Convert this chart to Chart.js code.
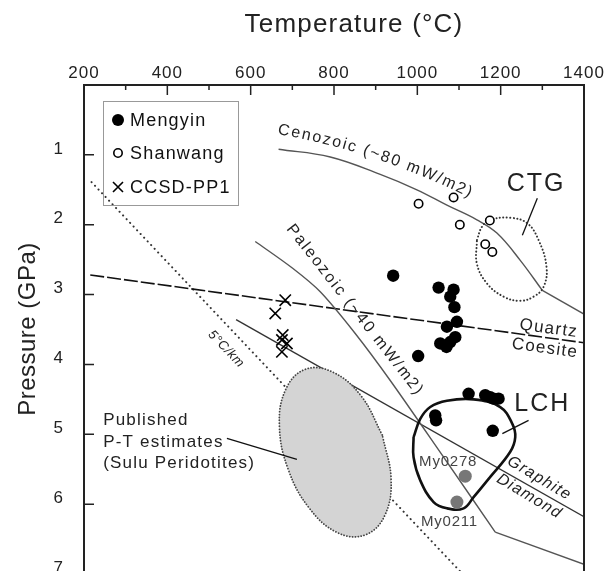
<!DOCTYPE html>
<html>
<head>
<meta charset="utf-8">
<script src="https://cdn.jsdelivr.net/npm/chart.js@4.4.1/dist/chart.umd.min.js"></script>
<style>
  html, body { margin: 0; padding: 0; background: #fff; overflow: hidden; }
  #wrap { width: 610px; height: 600px; }
</style>
</head>
<body>
<div id="wrap"><canvas id="pt" width="610" height="600"></canvas></div>
<script>
const FONT = '"Liberation Sans", Arial, Helvetica, sans-serif';

// samples (T in degC, P in GPa)
const mengyinT = [942, 1051, 1087, 1079, 1089, 1095, 1071, 1091, 1079, 1055, 1070, 1002, 1123, 1163, 1175, 1183, 1195, 1043, 1045, 1181];
const mengyinP = [2.73, 2.90, 2.93, 3.03, 3.18, 3.39, 3.46, 3.61, 3.68, 3.70, 3.75, 3.88, 4.42, 4.44, 4.47, 4.49, 4.49, 4.73, 4.80, 4.95];
const shanwangT = [1003, 1087, 1102, 1174, 1163, 1180];
const shanwangP = [1.70, 1.61, 2.00, 1.94, 2.28, 2.39];
const ccsdT = [683, 659, 677, 675, 687, 675];
const ccsdP = [3.08, 3.27, 3.58, 3.65, 3.70, 3.82];
const namedT = [1115, 1095];
const namedP = [5.60, 5.97];

// geotherms and reactions
const cenozoicT = [667, 791, 911, 999, 1071, 1143, 1191, 1247, 1300];
const cenozoicP = [0.92, 1.03, 1.28, 1.50, 1.72, 1.93, 2.12, 2.51, 2.94];
const cenozoicTailT = [1300, 1400];
const cenozoicTailP = [2.94, 3.28];
const paleozoicT = [611, 700, 767, 850, 935, 1061, 1187];
const paleozoicP = [2.24, 2.62, 2.96, 3.55, 4.23, 5.31, 6.40];
const paleozoicTailT = [1187, 1400];
const paleozoicTailP = [6.40, 6.86];
const quartzT = [215, 1400];
const quartzP = [2.72, 3.69];
const graphiteT = [565, 1400];
const graphiteP = [3.36, 6.18];
const gradientT = [218, 1115];
const gradientP = [1.39, 7.04];

// fields
const suluT = [916, 865, 797, 731, 684, 669, 690, 741, 809, 875, 922, 937, 916];
const suluP = [5.01, 4.45, 4.11, 4.07, 4.36, 4.88, 5.50, 6.06, 6.41, 6.44, 6.16, 5.64, 5.01];
const ctgT = [1143, 1155, 1175, 1223, 1264, 1291, 1310, 1303, 1279, 1247, 1207, 1167, 1143, 1143];
const ctgP = [2.22, 2.03, 1.93, 1.90, 1.98, 2.22, 2.60, 2.89, 3.03, 3.09, 3.03, 2.84, 2.56, 2.22];
const lchT = [991, 1007, 1031, 1071, 1135, 1199, 1228, 1235, 1223, 1175, 1135, 1111, 1071, 1039, 1007, 991, 991];
const lchP = [5.04, 4.78, 4.61, 4.52, 4.50, 4.61, 4.85, 5.04, 5.25, 5.61, 5.90, 6.06, 6.06, 5.97, 5.66, 5.33, 5.04];

// leader lines
const suluLeaderT = [543, 711];
const suluLeaderP = [5.06, 5.36];
const ctgLeaderT = [1288, 1252];
const ctgLeaderP = [1.62, 2.15];
const lchLeaderT = [1267, 1204];
const lchLeaderP = [4.80, 4.99];

const legendNames = ['Mengyin', 'Shanwang', 'CCSD-PP1'];

const notes = [
  { text: 'CTG', t: 1285, p: 1.42, size: 25, spacing: 2 },
  { text: 'LCH', t: 1300, p: 4.57, size: 25, spacing: 2 },
  { text: 'My0278', t: 1074, p: 5.40, size: 15, spacing: 0.8, color: '#444' },
  { text: 'My0211', t: 1077, p: 6.26, size: 15, spacing: 0.8, color: '#444' },
  { text: 'Published', t: 246, p: 4.80, size: 17, spacing: 1.2, align: 'left' },
  { text: 'P-T estimates', t: 246, p: 5.11, size: 17, spacing: 1.2, align: 'left' },
  { text: '(Sulu Peridotites)', t: 246, p: 5.41, size: 17, spacing: 1.2, align: 'left' },
  { text: 'Quartz', t: 1384, p: 3.61, size: 17, spacing: 1.3, align: 'right', baseline: 'alphabetic', angle: 7.8 },
  { text: 'Coesite', t: 1384, p: 3.90, size: 17, spacing: 1.3, align: 'right', baseline: 'alphabetic', angle: 7.8 },
  { text: 'Graphite', t: 1293, p: 5.63, size: 16, spacing: 1.3, angle: 31, italic: true },
  { text: 'Diamond', t: 1269, p: 5.89, size: 16, spacing: 1.3, angle: 31, italic: true },
  { text: '5°C/km', t: 541, p: 3.78, size: 13, spacing: 0.5, angle: 46, italic: true },
  { text: 'Paleozoic (~40 mW/m2)', t: 685, p: 2.06, size: 16, spacing: 2, align: 'left', baseline: 'alphabetic', angle: 52 }
];

const pts = (ts, ps) => ts.map((t, i) => ({ x: t, y: ps[i] }));

const lineSet = (ts, ps, extra) => Object.assign({
  data: pts(ts, ps),
  showLine: true,
  pointRadius: 0,
  fill: false,
  borderColor: '#555',
  borderWidth: 1.4,
  tension: 0,
  order: 3
}, extra);

function label(ctx, n, x, y) {
  ctx.save();
  ctx.translate(x.getPixelForValue(n.t), y.getPixelForValue(n.p));
  ctx.rotate((n.angle || 0) * Math.PI / 180);
  ctx.font = (n.italic ? 'italic ' : '') + n.size + 'px ' + FONT;
  ctx.letterSpacing = (n.spacing || 0) + 'px';
  ctx.fillStyle = n.color || '#222';
  ctx.textAlign = n.align || 'center';
  ctx.textBaseline = n.baseline || 'middle';
  ctx.fillText(n.text, 0, 0);
  ctx.restore();
}

// text bent along the Cenozoic curve
function curvedText(ctx, str, px, py, a0, a1, size, spacing) {
  ctx.save();
  ctx.font = size + 'px ' + FONT;
  ctx.letterSpacing = '0px';
  ctx.fillStyle = '#222';
  ctx.textBaseline = 'alphabetic';
  const total = ctx.measureText(str).width + spacing * str.length;
  let d = 0;
  for (const ch of str) {
    const w = ctx.measureText(ch).width;
    const a = (a0 + (a1 - a0) * (d + w / 2) / total) * Math.PI / 180;
    ctx.save();
    ctx.translate(px, py);
    ctx.rotate(a);
    ctx.fillText(ch, 0, 0);
    ctx.restore();
    px += Math.cos(a) * (w + spacing);
    py += Math.sin(a) * (w + spacing);
    d += w + spacing;
  }
  ctx.restore();
}

const decor = {
  id: 'decor',
  beforeDraw(chart) {
    chart.ctx.letterSpacing = '1px';
  },
  afterDraw(chart) {
    const { ctx, chartArea: a, scales: { x, y } } = chart;
    ctx.save();
    ctx.letterSpacing = '0px';

    // frame
    ctx.strokeStyle = '#222';
    ctx.lineWidth = 2;
    ctx.strokeRect(a.left, a.top, a.right - a.left, a.bottom - a.top);

    // inward ticks
    ctx.lineWidth = 1.5;
    ctx.beginPath();
    x.ticks.forEach(t => {
      const px = x.getPixelForValue(t.value);
      const len = t.value % 200 === 0 ? 10 : 5;
      ctx.moveTo(px, a.top);
      ctx.lineTo(px, a.top + len);
    });
    y.ticks.forEach(t => {
      if (t.value === 0) return;
      const py = y.getPixelForValue(t.value);
      ctx.moveTo(a.left, py);
      ctx.lineTo(a.left + 10, py);
    });
    ctx.stroke();

    // axis titles
    ctx.fillStyle = '#222';
    ctx.textAlign = 'center';
    ctx.textBaseline = 'middle';
    ctx.font = '26px ' + FONT;
    ctx.letterSpacing = '1.2px';
    ctx.fillText('Temperature (°C)', 354, 25);
    ctx.save();
    ctx.translate(28, 329);
    ctx.rotate(-Math.PI / 2);
    ctx.font = '24px ' + FONT;
    ctx.letterSpacing = '0.5px';
    ctx.fillText('Pressure (GPa)', 0, 0);
    ctx.restore();

    // legend
    const bx = a.left + 19, by = a.top + 16;
    ctx.strokeStyle = '#999';
    ctx.lineWidth = 1;
    ctx.strokeRect(bx + 0.5, by + 0.5, 135, 104);
    const rows = [by + 19, by + 52, by + 86];
    const mx = bx + 15;
    ctx.fillStyle = '#000';
    ctx.beginPath();
    ctx.arc(mx, rows[0], 6, 0, Math.PI * 2);
    ctx.fill();
    ctx.strokeStyle = '#000';
    ctx.lineWidth = 1.6;
    ctx.beginPath();
    ctx.arc(mx, rows[1], 4.2, 0, Math.PI * 2);
    ctx.stroke();
    ctx.beginPath();
    ctx.moveTo(mx - 5, rows[2] - 5); ctx.lineTo(mx + 5, rows[2] + 5);
    ctx.moveTo(mx + 5, rows[2] - 5); ctx.lineTo(mx - 5, rows[2] + 5);
    ctx.stroke();
    ctx.font = '18px ' + FONT;
    ctx.letterSpacing = '1.2px';
    ctx.textAlign = 'left';
    ctx.fillStyle = '#111';
    legendNames.forEach((n, i) => ctx.fillText(n, bx + 27, rows[i] + 1));
    ctx.restore();

    notes.forEach(n => label(ctx, n, x, y));
    curvedText(ctx, 'Cenozoic (~80 mW/m2)', x.getPixelForValue(664), y.getPixelForValue(0.70), 10, 27, 16, 1.8);
  }
};

new Chart(document.getElementById('pt'), {
  type: 'scatter',
  data: {
    datasets: [
      { data: pts(mengyinT, mengyinP), pointStyle: 'circle', pointRadius: 6.2, backgroundColor: '#000', borderWidth: 0, order: 0 },
      { data: pts(shanwangT, shanwangP), pointStyle: 'circle', pointRadius: 4.2, backgroundColor: '#fff', borderColor: '#000', borderWidth: 1.6, order: 0 },
      { data: pts(ccsdT, ccsdP), pointStyle: 'crossRot', pointRadius: 8, borderColor: '#000', borderWidth: 1.6, order: 0 },
      { data: pts(namedT, namedP), pointStyle: 'circle', pointRadius: 6.5, backgroundColor: '#777', borderWidth: 0, order: 0 },

      lineSet(lchT, lchP, { borderColor: '#111', borderWidth: 2.6, tension: 0.4, order: 1 }),
      lineSet(ctgT, ctgP, { borderColor: '#333', borderWidth: 2, borderDash: [0.1, 3.4], borderCapStyle: 'round', tension: 0.4, order: 1 }),
      lineSet(suluT, suluP, { borderColor: '#444', borderWidth: 1.8, borderDash: [0.1, 2.8], borderCapStyle: 'round', tension: 0.4, fill: 'shape', backgroundColor: '#d4d4d4', order: 2 }),

      lineSet(suluLeaderT, suluLeaderP, { borderColor: '#111', borderWidth: 1.3, order: 1 }),
      lineSet(ctgLeaderT, ctgLeaderP, { borderColor: '#111', borderWidth: 1.3, order: 1 }),
      lineSet(lchLeaderT, lchLeaderP, { borderColor: '#111', borderWidth: 1.3, order: 1 }),

      lineSet(cenozoicT, cenozoicP, { tension: 0.4 }),
      lineSet(cenozoicTailT, cenozoicTailP),
      lineSet(paleozoicT, paleozoicP, { tension: 0.3 }),
      lineSet(paleozoicTailT, paleozoicTailP),
      lineSet(quartzT, quartzP, { borderColor: '#111', borderWidth: 1.6, borderDash: [14, 3] }),
      lineSet(graphiteT, graphiteP, { borderColor: '#333' }),
      lineSet(gradientT, gradientP, { borderColor: '#333', borderWidth: 2, borderDash: [0.1, 5], borderCapStyle: 'round', order: 4 })
    ]
  },
  options: {
    responsive: false,
    devicePixelRatio: 1,
    animation: false,
    layout: { padding: { left: 0, top: 0, right: 26, bottom: 26 } },
    plugins: { legend: { display: false }, tooltip: { enabled: false } },
    scales: {
      x: {
        type: 'linear',
        position: 'top',
        min: 200,
        max: 1400,
        grid: { display: false, drawTicks: false },
        border: { display: false },
        ticks: {
          stepSize: 100,
          autoSkip: false,
          maxRotation: 0,
          padding: 1,
          color: '#222',
          font: { family: FONT, size: 17 },
          callback: v => (v % 200 === 0 ? v : '')
        },
        afterFit: s => { s.height = 85; s.paddingLeft = 0; s.paddingRight = 0; }
      },
      y: {
        type: 'linear',
        reverse: true,
        min: 0,
        max: 7,
        grid: { display: false, drawTicks: false },
        border: { display: false },
        ticks: {
          stepSize: 1,
          padding: 20,
          labelOffset: -6,
          color: '#222',
          font: { family: FONT, size: 17 },
          callback: v => (v === 0 ? '' : v)
        },
        afterFit: s => { s.width = 84; s.paddingTop = 0; s.paddingBottom = 0; }
      }
    }
  },
  plugins: [decor]
});
</script>
</body>
</html>
